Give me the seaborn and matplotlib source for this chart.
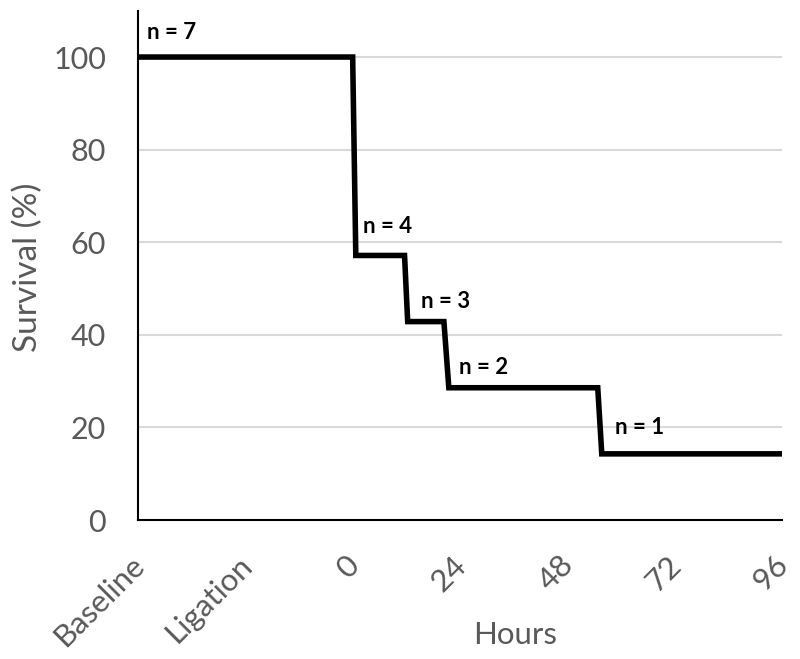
import matplotlib
matplotlib.use("Agg")
import matplotlib.pyplot as plt
import matplotlib.transforms as mtransforms
import seaborn as sns
import pandas as pd

# Data
hours = [-48, 0, 0.7, 11.6, 12.3, 20.4, 21.5, 54.8, 55.7, 96]
survival = [100, 100, 57.14, 57.14, 42.86, 42.86, 28.57, 28.57, 14.29, 14.29]
tick_positions = [-48, -24, 0, 24, 48, 72, 96]
tick_labels = ["Baseline", "Ligation", "0", "24", "48", "72", "96"]
y_ticks = [0, 20, 40, 60, 80, 100]
n_labels = ["n = 7", "n = 4", "n = 3", "n = 2", "n = 1"]
n_x = [-46, 2.2, 15.2, 23.7, 58.6]
n_y = [105.2, 63.5, 47.1, 33.0, 19.9]

sns.set_theme(style="white")
plt.rcParams["font.family"] = ["Lato", "DejaVu Sans"]

df = pd.DataFrame({"Hours": hours, "Survival": survival})

fig = plt.figure(figsize=(8, 6.59), dpi=100)
ax = fig.add_axes([0.1725, 0.2109, 0.805, 0.7728])

for y in y_ticks[1:]:
    ax.axhline(y, color="#d9d9d9", lw=1.5, zorder=0)

sns.lineplot(data=df, x="Hours", y="Survival", sort=False, estimator=None,
             color="black", lw=4.0, ax=ax, zorder=3)
ax.lines[-1].set_solid_joinstyle("miter")

for t, x, y in zip(n_labels, n_x, n_y):
    ax.text(x, y, t, fontsize=16, fontweight="bold", color="black",
            ha="left", va="center", zorder=4)

ax.set_xlim(-48, 96)
ax.set_ylim(0, 110)
ax.set_xticks(tick_positions)
ax.set_xticklabels(tick_labels, rotation=45, ha="right", rotation_mode="anchor")
ax.set_yticks(y_ticks)

for s in ["top", "right"]:
    ax.spines[s].set_visible(False)
for s in ["left", "bottom"]:
    ax.spines[s].set_color("black")
    ax.spines[s].set_linewidth(1.5)

ax.tick_params(axis="both", which="major", direction="out", length=8,
               width=1.5, color="black", labelcolor="#595959")
ax.tick_params(axis="x", pad=14, labelsize=22.5)
ax.tick_params(axis="y", pad=15, labelsize=22)

shift = mtransforms.ScaledTranslation(-0.08, 0, fig.dpi_scale_trans)
for lab in ax.get_xticklabels():
    lab.set_transform(lab.get_transform() + shift)

ax.set_xlabel("Hours", fontsize=22.5, color="#595959")
ax.set_ylabel("Survival (%)", fontsize=24, color="#595959")
ax.xaxis.set_label_coords((515 - 138) / 644, -(635 - 520) / 509.3)
ax.yaxis.set_label_coords(-(138 - 28) / 644, (520 - 267) / 509.3)
ax.xaxis.label.set_va("center")
ax.yaxis.label.set_va("center")

fig.savefig("out.png", dpi=100, facecolor="white")
